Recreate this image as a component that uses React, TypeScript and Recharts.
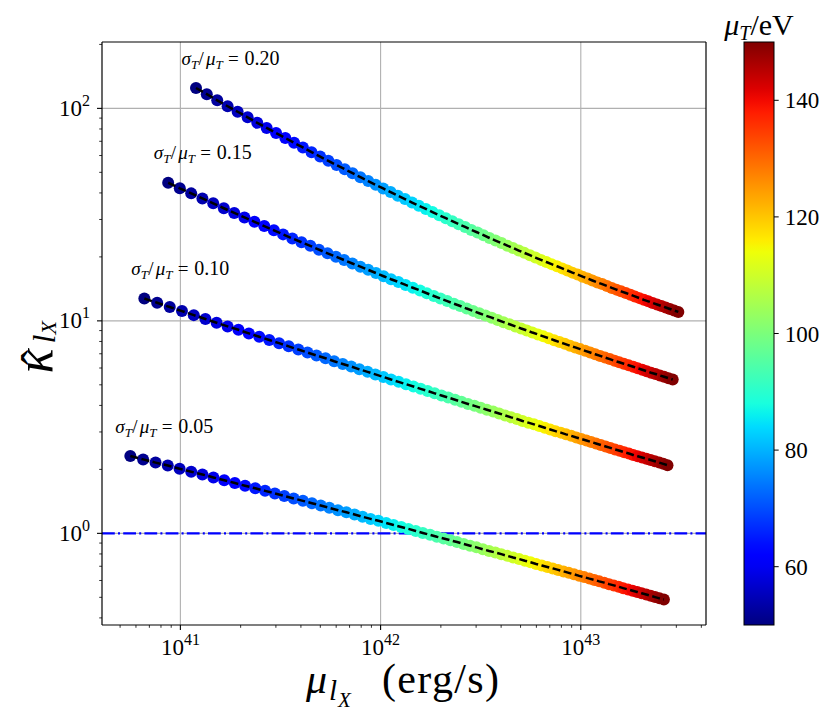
import React from 'react';
import { ScatterChart, Scatter, XAxis, YAxis, ReferenceLine, ReferenceDot, ReferenceArea } from 'recharts';

const SERIF = 'Liberation Serif';

// mean temperature mu_T (eV) of every point (shared by the four curves)
const muT = [
  50, 51.33, 52.67, 54, 55.33, 56.67, 58, 59.33, 60.67, 62,
  63.33, 64.67, 66, 67.33, 68.67, 70, 71.33, 72.67, 74, 75.33,
  76.67, 78, 79.33, 80.67, 82, 83.33, 84.67, 86, 87.33, 88.67,
  90, 91.33, 92.67, 94, 95.33, 96.67, 98, 99.33, 100.67, 102,
  103.33, 104.67, 106, 107.33, 108.67, 110, 111.33, 112.67, 114, 115.33,
  116.67, 118, 119.33, 120.67, 122, 123.33, 124.67, 126, 127.33, 128.67,
  130, 131.33, 132.67, 134, 135.33, 136.67, 138, 139.33, 140.67, 142,
  143.33, 144.67, 146, 147.33, 148.67, 150,
];

// sigma_T/mu_T = 0.05 : log10(mu_lX [erg/s]) and log10(kappa_hat)
const log10MuL_005 = [
  40.750, 40.814, 40.876, 40.937, 40.996, 41.054, 41.110, 41.165, 41.219, 41.272,
  41.323, 41.374, 41.423, 41.472, 41.519, 41.566, 41.612, 41.657, 41.701, 41.744,
  41.787, 41.829, 41.870, 41.910, 41.950, 41.989, 42.028, 42.065, 42.103, 42.139,
  42.176, 42.211, 42.247, 42.281, 42.315, 42.349, 42.382, 42.415, 42.447, 42.479,
  42.511, 42.542, 42.573, 42.603, 42.633, 42.662, 42.692, 42.721, 42.749, 42.777,
  42.805, 42.833, 42.860, 42.887, 42.914, 42.940, 42.966, 42.992, 43.017, 43.043,
  43.068, 43.092, 43.117, 43.141, 43.165, 43.189, 43.212, 43.236, 43.259, 43.282,
  43.304, 43.327, 43.349, 43.371, 43.393, 43.415,
];
const log10Kappa_005 = [
  0.364, 0.348, 0.333, 0.319, 0.304, 0.290, 0.277, 0.263, 0.250, 0.237,
  0.224, 0.212, 0.200, 0.188, 0.176, 0.164, 0.153, 0.142, 0.131, 0.120,
  0.109, 0.099, 0.089, 0.078, 0.068, 0.059, 0.049, 0.039, 0.030, 0.021,
  0.011, 0.002, -0.007, -0.016, -0.024, -0.033, -0.041, -0.050, -0.058, -0.066,
  -0.075, -0.083, -0.090, -0.098, -0.106, -0.114, -0.121, -0.129, -0.136, -0.144,
  -0.151, -0.158, -0.165, -0.172, -0.179, -0.186, -0.193, -0.200, -0.206, -0.213,
  -0.219, -0.226, -0.232, -0.239, -0.245, -0.251, -0.258, -0.264, -0.270, -0.276,
  -0.282, -0.288, -0.294, -0.300, -0.306, -0.311,
];

// sigma_T/mu_T = 0.10
const log10MuL_010 = [
  40.820, 40.884, 40.947, 41.008, 41.067, 41.125, 41.181, 41.236, 41.290, 41.342,
  41.394, 41.444, 41.493, 41.541, 41.589, 41.635, 41.680, 41.725, 41.768, 41.811,
  41.853, 41.894, 41.935, 41.974, 42.014, 42.052, 42.090, 42.127, 42.164, 42.200,
  42.235, 42.270, 42.304, 42.338, 42.372, 42.404, 42.437, 42.469, 42.500, 42.531,
  42.562, 42.592, 42.622, 42.652, 42.681, 42.709, 42.738, 42.766, 42.793, 42.820,
  42.847, 42.874, 42.900, 42.926, 42.952, 42.978, 43.003, 43.028, 43.052, 43.076,
  43.100, 43.124, 43.148, 43.171, 43.194, 43.217, 43.240, 43.262, 43.284, 43.306,
  43.328, 43.349, 43.370, 43.392, 43.412, 43.433,
];
const log10Kappa_010 = [
  1.105, 1.085, 1.065, 1.046, 1.027, 1.009, 0.991, 0.974, 0.958, 0.941,
  0.925, 0.910, 0.895, 0.880, 0.865, 0.851, 0.837, 0.824, 0.810, 0.797,
  0.785, 0.772, 0.760, 0.748, 0.736, 0.724, 0.713, 0.702, 0.691, 0.680,
  0.670, 0.659, 0.649, 0.639, 0.629, 0.619, 0.609, 0.600, 0.591, 0.582,
  0.573, 0.564, 0.555, 0.546, 0.538, 0.529, 0.521, 0.513, 0.505, 0.497,
  0.489, 0.481, 0.474, 0.466, 0.459, 0.451, 0.444, 0.437, 0.430, 0.423,
  0.416, 0.409, 0.402, 0.395, 0.389, 0.382, 0.376, 0.369, 0.363, 0.357,
  0.351, 0.345, 0.339, 0.333, 0.327, 0.321,
];

// sigma_T/mu_T = 0.15
const log10MuL_015 = [
  40.939, 40.997, 41.054, 41.110, 41.164, 41.217, 41.269, 41.320, 41.370, 41.419,
  41.467, 41.513, 41.559, 41.605, 41.649, 41.692, 41.735, 41.777, 41.818, 41.859,
  41.899, 41.938, 41.977, 42.015, 42.052, 42.089, 42.125, 42.161, 42.197, 42.231,
  42.266, 42.299, 42.333, 42.366, 42.398, 42.430, 42.462, 42.493, 42.524, 42.555,
  42.585, 42.614, 42.644, 42.673, 42.702, 42.730, 42.758, 42.786, 42.813, 42.840,
  42.867, 42.894, 42.920, 42.946, 42.972, 42.997, 43.022, 43.047, 43.072, 43.097,
  43.121, 43.145, 43.169, 43.192, 43.215, 43.239, 43.262, 43.284, 43.307, 43.329,
  43.351, 43.373, 43.395, 43.416, 43.438, 43.459,
];
const log10Kappa_015 = [
  1.650, 1.624, 1.600, 1.576, 1.553, 1.530, 1.508, 1.487, 1.466, 1.446,
  1.426, 1.407, 1.388, 1.370, 1.353, 1.335, 1.318, 1.302, 1.286, 1.270,
  1.255, 1.240, 1.225, 1.210, 1.196, 1.183, 1.169, 1.156, 1.143, 1.130,
  1.117, 1.105, 1.093, 1.081, 1.070, 1.058, 1.047, 1.036, 1.025, 1.015,
  1.004, 0.994, 0.984, 0.974, 0.964, 0.955, 0.945, 0.936, 0.927, 0.918,
  0.909, 0.900, 0.892, 0.883, 0.875, 0.867, 0.859, 0.851, 0.843, 0.835,
  0.827, 0.820, 0.812, 0.805, 0.798, 0.791, 0.784, 0.777, 0.770, 0.763,
  0.756, 0.750, 0.743, 0.737, 0.730, 0.724,
];

// sigma_T/mu_T = 0.20
const log10MuL_020 = [
  41.078, 41.132, 41.184, 41.236, 41.286, 41.336, 41.384, 41.431, 41.478, 41.524,
  41.568, 41.612, 41.655, 41.698, 41.739, 41.780, 41.821, 41.860, 41.899, 41.938,
  41.976, 42.013, 42.050, 42.086, 42.122, 42.157, 42.191, 42.226, 42.259, 42.293,
  42.326, 42.358, 42.390, 42.422, 42.453, 42.484, 42.514, 42.544, 42.574, 42.604,
  42.633, 42.661, 42.690, 42.718, 42.746, 42.773, 42.801, 42.828, 42.854, 42.881,
  42.907, 42.933, 42.958, 42.984, 43.009, 43.034, 43.058, 43.083, 43.107, 43.131,
  43.155, 43.178, 43.201, 43.225, 43.248, 43.270, 43.293, 43.315, 43.337, 43.359,
  43.381, 43.403, 43.424, 43.445, 43.466, 43.487,
];
const log10Kappa_020 = [
  2.096, 2.067, 2.038, 2.010, 1.984, 1.958, 1.932, 1.908, 1.884, 1.861,
  1.838, 1.816, 1.794, 1.773, 1.753, 1.733, 1.714, 1.695, 1.676, 1.658,
  1.640, 1.623, 1.606, 1.589, 1.573, 1.557, 1.542, 1.527, 1.512, 1.497,
  1.483, 1.469, 1.455, 1.442, 1.428, 1.416, 1.403, 1.390, 1.378, 1.366,
  1.354, 1.343, 1.331, 1.320, 1.309, 1.298, 1.287, 1.277, 1.267, 1.257,
  1.247, 1.237, 1.227, 1.218, 1.208, 1.199, 1.190, 1.181, 1.173, 1.164,
  1.155, 1.147, 1.139, 1.131, 1.123, 1.115, 1.107, 1.099, 1.092, 1.084,
  1.077, 1.070, 1.063, 1.056, 1.049, 1.042,
];

// annotations: text and anchor (baseline-left) in data units
const ratioLabels = ['0.05', '0.10', '0.15', '0.20'];
const ratioLabelMuL = [4.73e40, 5.69e40, 7.36e40, 1.012e41];
const ratioLabelKappa = [2.953, 16.4, 57.6, 159.5];

// axes
const X_DOMAIN = [4.06e40, 4.22e43];
const Y_DOMAIN = [0.3704, 205.3];
const xMajorTicks = [1e41, 1e42, 1e43];
const xMinorTicks = [5e40, 6e40, 7e40, 8e40, 9e40, 2e41, 3e41, 4e41, 5e41, 6e41, 7e41, 8e41, 9e41,
  2e42, 3e42, 4e42, 5e42, 6e42, 7e42, 8e42, 9e42, 2e43, 3e43, 4e43];
const yMajorTicks = [1, 10, 100];
const yMinorTicks = [0.4, 0.5, 0.6, 0.7, 0.8, 0.9, 2, 3, 4, 5, 6, 7, 8, 9,
  20, 30, 40, 50, 60, 70, 80, 90, 200];
const THRESHOLD = 1;

// colour bar
const CBAR_DOMAIN = [50, 150];
const cbarTicks = [60, 80, 100, 120, 140];
const cbarRange = [{ x: 0, y: CBAR_DOMAIN[0] }, { x: 1, y: CBAR_DOMAIN[1] }];

const seriesLogs = [
  { lx: log10MuL_005, ly: log10Kappa_005 },
  { lx: log10MuL_010, ly: log10Kappa_010 },
  { lx: log10MuL_015, ly: log10Kappa_015 },
  { lx: log10MuL_020, ly: log10Kappa_020 },
];
const tables = seriesLogs.map((s) =>
  muT.map((t, i) => ({ x: Math.pow(10, s.lx[i]), y: Math.pow(10, s.ly[i]), t }))
);

// matplotlib "jet"
type Seg = [number, number][];
const JET_R: Seg = [[0, 0], [0.35, 0], [0.66, 1], [0.89, 1], [1, 0.5]];
const JET_G: Seg = [[0, 0], [0.125, 0], [0.375, 1], [0.64, 1], [0.91, 0], [1, 0]];
const JET_B: Seg = [[0, 0.5], [0.11, 1], [0.34, 1], [0.65, 0], [1, 0]];
function seg(s: Seg, t: number) {
  if (t <= s[0][0]) return s[0][1];
  for (let i = 1; i < s.length; i++) {
    if (t <= s[i][0]) {
      const [x0, y0] = s[i - 1];
      const [x1, y1] = s[i];
      return y0 + ((y1 - y0) * (t - x0)) / (x1 - x0);
    }
  }
  return s[s.length - 1][1];
}
function jet(t: number) {
  const c = Math.max(0, Math.min(1, t));
  const f = (v: number) => Math.round(255 * v);
  return `rgb(${f(seg(JET_R, c))},${f(seg(JET_G, c))},${f(seg(JET_B, c))})`;
}
const normT = (t: number) => (t - CBAR_DOMAIN[0]) / (CBAR_DOMAIN[1] - CBAR_DOMAIN[0]);

const isMajor = (v: number) => {
  const e = Math.log10(v);
  return Math.abs(e - Math.round(e)) < 1e-6;
};

const XTick = (props: any) => {
  const { x, y, payload } = props;
  const v = payload.value;
  const major = isMajor(v);
  return (
    <g>
      <line x1={x} x2={x} y1={y} y2={y + (major ? 5 : 2.8)} stroke="#000" strokeWidth={major ? 1.1 : 0.8} />
      {major && (
        <text x={x} y={y + 30} textAnchor="middle" fontFamily={SERIF} fontSize={23} fill="#000">
          10<tspan fontSize={16} dy={-10}>{Math.round(Math.log10(v))}</tspan>
        </text>
      )}
    </g>
  );
};

const YTick = (props: any) => {
  const { x, y, payload } = props;
  const v = payload.value;
  const major = isMajor(v);
  return (
    <g>
      <line x1={x - (major ? 5 : 2.8)} x2={x} y1={y} y2={y} stroke="#000" strokeWidth={major ? 1.1 : 0.8} />
      {major && (
        <text x={x - 12} y={y + 7.5} textAnchor="end" fontFamily={SERIF} fontSize={23} fill="#000">
          10<tspan fontSize={16} dy={-10}>{Math.round(Math.log10(v))}</tspan>
        </text>
      )}
    </g>
  );
};

const CbarTick = (props: any) => {
  const { x, y, payload } = props;
  return (
    <text x={x} y={y + 8} textAnchor="start" fontFamily={SERIF} fontSize={23} fill="#000">
      {payload.value}
    </text>
  );
};

const XLabel = (props: any) => {
  const vb = props.viewBox || { x: 102, y: 625, width: 604, height: 80 };
  const cx = vb.x + vb.width / 2;
  const base = vb.y + 68;
  return (
    <g fontFamily={SERIF} fill="#000">
      <text x={cx - 98} y={base} fontSize={42} fontStyle="italic">μ</text>
      <text x={cx - 75} y={base + 7} fontSize={29} fontStyle="italic">l</text>
      <text x={cx - 66} y={base + 14} fontSize={21} fontStyle="italic">X</text>
      <text x={cx - 22} y={base} fontSize={42} textLength={117}>(erg/s)</text>
    </g>
  );
};

const YLabel = (props: any) => {
  const vb = props.viewBox || { x: 32, y: 42, width: 70, height: 583 };
  const cx = vb.x + vb.width - 58;
  const cy = vb.y + vb.height / 2 + 6;
  return (
    <g transform={`translate(${cx},${cy}) rotate(-90)`} fontFamily={SERIF} fill="#000">
      <text x={-34} y={8} fontSize={52} fontStyle="italic">κ</text>
      <text x={-18} y={10} fontSize={46} textAnchor="middle">ˆ</text>
      <text x={-4} y={11} fontSize={32} fontStyle="italic">l</text>
      <text x={5} y={12} fontSize={22} fontStyle="italic">X</text>
    </g>
  );
};

const Annotation = ({ cx, cy, value }: { cx: number; cy: number; value: string }) => (
  <g fontFamily={SERIF} fill="#000">
    <text x={cx} y={cy} fontSize={19} fontStyle="italic">σ</text>
    <text x={cx + 9.5} y={cy + 3.5} fontSize={13} fontStyle="italic">T</text>
    <text x={cx + 17} y={cy} fontSize={19}>/</text>
    <text x={cx + 24.5} y={cy} fontSize={19} fontStyle="italic">μ</text>
    <text x={cx + 34} y={cy + 3.5} fontSize={13} fontStyle="italic">T</text>
    <text x={cx + 46.5} y={cy} fontSize={19}>=</text>
    <text x={cx + 63} y={cy} fontSize={20}>{value}</text>
  </g>
);

const Dot = (p: any) => {
  if (p.cx == null || p.cy == null) return <g />;
  const t = p.payload ? p.payload.t : 50;
  return <circle cx={p.cx} cy={p.cy} r={6} fill={jet(normT(t))} />;
};
const NoShape = () => <g />;

const cbarStops = Array.from({ length: 51 }, (_, i) => i / 50);

const ColorbarShape = (p: any) => {
  const { x, y, width, height } = p;
  return (
    <g>
      <defs>
        <linearGradient id="jetGrad" x1="0" y1="1" x2="0" y2="0">
          {cbarStops.map((s) => (
            <stop key={s} offset={s} stopColor={jet(s)} />
          ))}
        </linearGradient>
      </defs>
      <rect x={x} y={y} width={width} height={height} fill="url(#jetGrad)" stroke="#000" strokeWidth={1} />
      <text x={x + width / 2} y={y - 7} textAnchor="middle" fontFamily={SERIF} fontSize={30} fill="#000">
        <tspan fontStyle="italic">μ</tspan>
        <tspan fontStyle="italic" fontSize={20} dy={5}>T</tspan>
        <tspan dy={-5}>/eV</tspan>
      </text>
    </g>
  );
};

export default function App() {
  return (
    <div style={{ position: 'absolute', left: 0, top: 0, width: 830, height: 721, background: '#fff' }}>
      <div style={{ position: 'absolute', left: 0, top: 0 }}>
        <ScatterChart width={830} height={721} margin={{ top: 42, right: 124, bottom: 16, left: 32 }}>
          <XAxis
            type="number"
            dataKey="x"
            scale="log"
            domain={X_DOMAIN}
            allowDataOverflow
            ticks={[...xMajorTicks, ...xMinorTicks]}
            interval={0}
            tick={<XTick />}
            tickLine={false}
            tickSize={0}
            tickMargin={0}
            height={80}
            axisLine={{ stroke: '#000', strokeWidth: 1.2 }}
            label={XLabel}
          />
          <YAxis
            type="number"
            dataKey="y"
            scale="log"
            domain={Y_DOMAIN}
            allowDataOverflow
            ticks={[...yMajorTicks, ...yMinorTicks]}
            interval={0}
            tick={<YTick />}
            tickLine={false}
            tickSize={0}
            tickMargin={0}
            width={70}
            axisLine={{ stroke: '#000', strokeWidth: 1.2 }}
            label={YLabel}
          />
          {xMajorTicks.map((v) => (
            <ReferenceLine key={`gx${v}`} x={v} stroke="#b0b0b0" strokeWidth={1.1} />
          ))}
          {yMajorTicks.map((v) => (
            <ReferenceLine key={`gy${v}`} y={v} stroke="#b0b0b0" strokeWidth={1.1} />
          ))}
          <ReferenceLine y={THRESHOLD} stroke="#0000ff" strokeWidth={2.2} strokeDasharray="12.8 3.2 2 3.2" />
          {tables.map((d, i) => (
            <Scatter key={`dots${i}`} data={d} shape={Dot} isAnimationActive={false} />
          ))}
          {tables.map((d, i) => (
            <Scatter
              key={`line${i}`}
              data={d}
              shape={NoShape}
              fill="none"
              line={{ stroke: '#000', strokeWidth: 2.5, strokeDasharray: '8 3.5' }}
              isAnimationActive={false}
            />
          ))}
          <ReferenceLine y={Y_DOMAIN[1]} stroke="#000" strokeWidth={1.2} ifOverflow="visible" />
          <ReferenceLine x={X_DOMAIN[1]} stroke="#000" strokeWidth={1.2} ifOverflow="visible" />
          {ratioLabels.map((lab, i) => (
            <ReferenceDot
              key={`ann${i}`}
              x={ratioLabelMuL[i]}
              y={ratioLabelKappa[i]}
              r={0}
              ifOverflow="visible"
              shape={(p: any) => <Annotation cx={p.cx} cy={p.cy} value={lab} />}
            />
          ))}
        </ScatterChart>
      </div>
      <div style={{ position: 'absolute', left: 0, top: 0 }}>
        <ScatterChart width={830} height={721} margin={{ top: 42, right: 16, bottom: 96, left: 744 }}>
          <XAxis type="number" dataKey="x" domain={[0, 1]} hide />
          <YAxis
            type="number"
            dataKey="y"
            domain={CBAR_DOMAIN}
            orientation="right"
            ticks={cbarTicks}
            interval={0}
            width={40}
            axisLine={false}
            tickLine={{ stroke: '#000', strokeWidth: 1 }}
            tickSize={4.7}
            tickMargin={6}
            tick={<CbarTick />}
          />
          <Scatter data={cbarRange} shape={NoShape} isAnimationActive={false} />
          <ReferenceArea x1={0} x2={1} y1={CBAR_DOMAIN[0]} y2={CBAR_DOMAIN[1]} ifOverflow="visible" shape={ColorbarShape} />
        </ScatterChart>
      </div>
    </div>
  );
}
